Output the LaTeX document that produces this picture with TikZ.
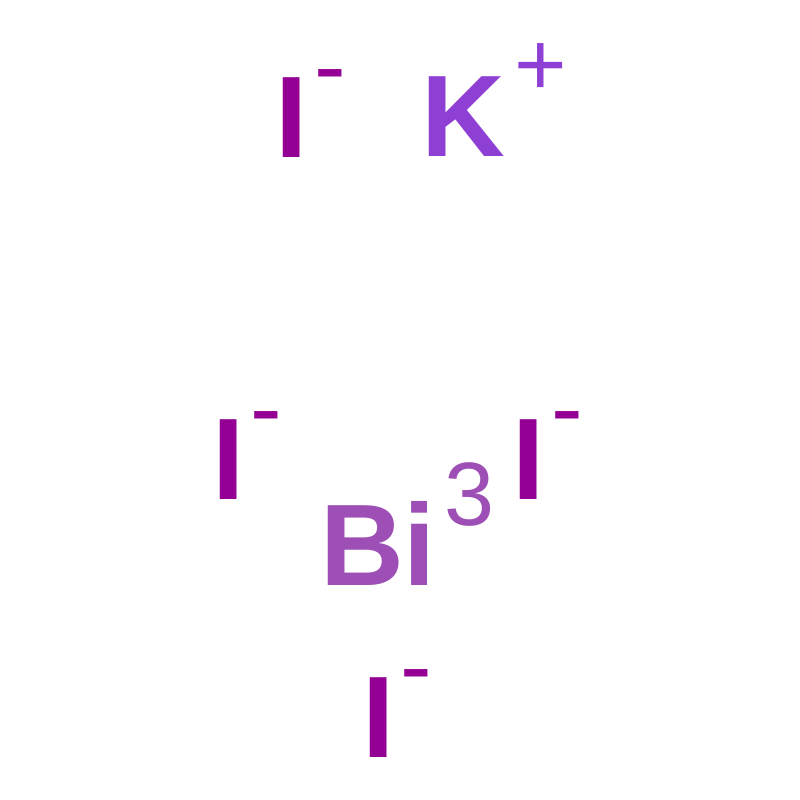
\documentclass[tikz,border=0pt]{standalone}
\usepackage{fontspec}
\setmainfont{Liberation Sans}
\newfontfamily\atomfont{Liberation Sans Bold}
\newfontfamily\chgfont{Liberation Sans}
\definecolor{iodine}{HTML}{940094}
\definecolor{potassium}{HTML}{8F40D4}
\definecolor{bismuth}{HTML}{9E4FB5}
\tikzset{
  atom/.style={anchor=base, inner sep=0pt, font=\atomfont\fontsize{116}{116}\selectfont},
  chg/.style={anchor=base, inner sep=0pt, font=\chgfont\fontsize{90}{90}\selectfont},
  minuschg/.style={anchor=base, inner sep=0pt, font=\chgfont\fontsize{95}{95}\selectfont}
}
\begin{document}
\begin{tikzpicture}[x=1pt,y=-1pt]
\useasboundingbox (0,0) rectangle (800,800);
% top row
\node[atom, text=iodine] (i1) at (292,157) {I};
\node[minuschg, text=iodine] (m1) at (330.5,98) {-};
\node[atom, text=potassium] (k) at (463,156) {K};
\node[chg, text=potassium] (kp) at (540.5,95) {+};
% middle row
\node[atom, text=iodine] (i2) at (228.5,499) {I};
\node[minuschg, text=iodine] (m2) at (266,440) {-};
\node[atom, text=iodine] (i3) at (528.5,499) {I};
\node[minuschg, text=iodine] (m3) at (567.5,440) {-};
\node[atom, text=bismuth] (bi) at (378,585) {Bi};
\node[chg, text=bismuth] (b3) at (469.5,525) {3};
% bottom
\node[atom, text=iodine] (i4) at (378.5,757) {I};
\node[minuschg, text=iodine] (m4) at (416,698) {-};
\end{tikzpicture}
\end{document}
